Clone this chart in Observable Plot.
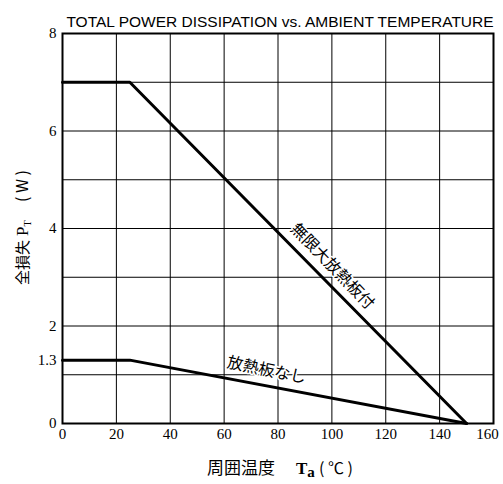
<!DOCTYPE html>
<html><head><meta charset="utf-8">
<script src="https://cdn.jsdelivr.net/npm/d3@7"></script>
<script src="https://cdn.jsdelivr.net/npm/@observablehq/plot@0.6"></script>
<style>body{margin:0;background:#fff}</style>
</head><body><div id="chart"></div>
<script>
const title = "TOTAL POWER DISSIPATION vs. AMBIENT TEMPERATURE";
const temps = [0, 25, 150];
const withHeatsink = [7, 7, 0];
const noHeatsink = [1.3, 1.3, 0];
const seriesNames = ["無限大放熱板付", "放熱板なし"];
const xTicks = [0, 20, 40, 60, 80, 100, 120, 140, 160];
const yTicks = [0, 1.3, 2, 4, 6, 8];
const yGrid = [1, 2, 3, 4, 5, 6, 7];
const xGrid = [20, 40, 60, 80, 100, 120, 140];
const xLabel = ["周囲温度", "T", "a", "( ℃ )"];
const yLabel = ["全損失", "P", "T", "( W )"];

const rows = [];
temps.forEach((t, i) => {
  rows.push({t, p: withHeatsink[i], s: seriesNames[0]});
  rows.push({t, p: noHeatsink[i], s: seriesNames[1]});
});
const at = (arr, x) => {
  for (let i = 0; i < temps.length - 1; i++) {
    if (x >= temps[i] && x <= temps[i+1]) {
      const f = (x - temps[i]) / (temps[i+1] - temps[i]);
      return arr[i] + f * (arr[i+1] - arr[i]);
    }
  }
  return 0;
};
const labels = [
  {t: 96.5, p: at(withHeatsink, 96.5), s: seriesNames[0], rot: 46, dx: 10, dy: -11},
  {t: 74.6, p: at(noHeatsink, 74.6), s: seriesNames[1], rot: 11.5, dx: 3, dy: -15}
];

const serif = "'Liberation Serif', 'DejaVu Serif', serif";
const cjk = "'Noto Sans CJK JP', sans-serif";

const chart = Plot.plot({
  width: 503, height: 484,
  marginLeft: 62, marginRight: 10, marginTop: 33, marginBottom: 61,
  style: {background: "#fff", color: "#000"},
  x: {domain: [0, 160], label: null},
  y: {domain: [0, 8], label: null},
  marks: [
    Plot.ruleX(xGrid, {stroke: "#000", strokeWidth: 1}),
    Plot.ruleY(yGrid, {stroke: "#000", strokeWidth: 1}),
    Plot.frame({stroke: "#000", strokeWidth: 2}),
    Plot.axisX({ticks: xTicks, tickSize: 0, tickPadding: 5, label: null, fontSize: 15}),
    Plot.axisY({ticks: yTicks, tickSize: 0, tickPadding: 6, label: null, fontSize: 15,
      tickFormat: d => d === 1.3 ? "1.3" : String(d)}),
    Plot.line(rows, {x: "t", y: "p", z: "s", stroke: "#000", strokeWidth: 3}),
    ...labels.map(l => Plot.text([l], {x: "t", y: "p", text: "s", rotate: l.rot, dx: l.dx, dy: l.dy,
      fontFamily: cjk, fontSize: 16, fill: "#000", stroke: "#fff", strokeWidth: 3})),
    Plot.text([title], {frameAnchor: "top", dy: -18, dx: 2, fontFamily: "Liberation Sans, Arial, sans-serif", fontSize: 15.5, fill: "#000"})
  ]
});
document.getElementById("chart").appendChild(chart);

const svg = d3.select(chart);
// serif tick labels (numeric texts)
svg.selectAll("text").filter(function() { return /^[0-9.]+$/.test(this.textContent.trim()); })
  .attr("font-family", serif).style("font-family", serif).style("font-size", "15px")
  .filter(function() { return this.textContent.trim() === "160"; })
  .attr("dx", -6);

const xl = svg.append("text").attr("y", 474).attr("fill", "#000").attr("text-anchor", "start");
xl.append("tspan").attr("x", 207).attr("font-family", cjk).attr("font-size", 17).text(xLabel[0]);
xl.append("tspan").attr("x", 296).attr("font-family", serif).attr("font-weight", "bold").attr("font-size", 17).text(xLabel[1]);
xl.append("tspan").attr("font-family", serif).attr("font-weight", "bold").attr("font-size", 15).attr("dy", 3).text(xLabel[2]);
xl.append("tspan").attr("x", 319).attr("font-family", cjk).attr("font-size", 16).attr("dy", -3).text(xLabel[3]);

const yl = svg.append("g").attr("transform", "translate(28,0) rotate(-90)");
const ylt = yl.append("text").attr("fill", "#000").attr("text-anchor", "start");
ylt.append("tspan").attr("x", -285).attr("font-family", cjk).attr("font-size", 15).text(yLabel[0]);
ylt.append("tspan").attr("x", -236).attr("font-family", serif).attr("font-size", 17).text(yLabel[1]);
ylt.append("tspan").attr("font-family", serif).attr("font-size", 10).attr("dy", 3).text(yLabel[2]);
ylt.append("tspan").attr("x", -202).attr("font-family", cjk).attr("font-size", 16).attr("dy", -3).text(yLabel[3]);
</script></body></html>
